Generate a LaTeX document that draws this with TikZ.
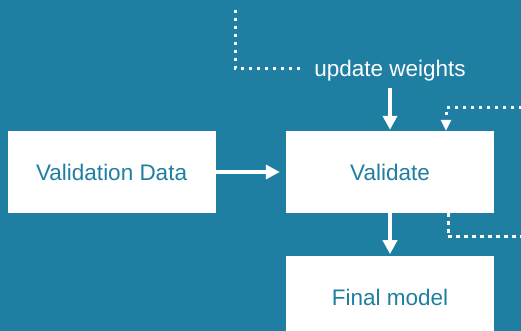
\documentclass[tikz,border=0pt]{standalone}
\usepackage{fontspec}
\setmainfont{Liberation Sans}
\usetikzlibrary{positioning,arrows.meta}
\definecolor{seablue}{RGB}{31,127,162}

\begin{document}
\begin{tikzpicture}[x=1pt,y=1pt,node distance=70pt,
  every node/.style={font=\fontsize{22.5}{27}\selectfont},
  stage/.style={fill=white,text=seablue,minimum width=208pt,minimum height=82pt,inner sep=0pt},
  flow/.style={white,line width=3.5pt,-{Triangle[length=14pt,width=14pt]}},
  dotline/.style={white,line width=3pt,dash pattern=on 3.5pt off 4.5pt}]
\useasboundingbox (0,0) rectangle (521,331);
\fill[seablue] (0,0) rectangle (521,331);
\clip (0,0) rectangle (521,331);

\node[stage] (validate) at (390,159) {Validate};
\node[stage] (valdata) [left=of validate] {Validation Data};
\node[stage] (final) [below=43pt of validate] {Final model};
\node[text=white,inner sep=3pt] (update) [above=46pt of validate] {update weights};

% loose ends of the training loop
\coordinate (back) at (235,321);
\coordinate (inright) at (530,223);
\coordinate (outright) at (530,94);

\draw[flow,shorten >=6pt] (valdata) -- (validate);
\draw[flow,shorten <=3pt,shorten >=1pt] (update) -- (validate);
\draw[flow,shorten >=2pt] (validate) -- (final);
\draw[dotline,shorten >=8pt] (back) |- ([yshift=3pt]update.west);
\draw[dotline,-{Triangle[length=11pt,width=10pt]}] (inright) -| ([xshift=56pt]validate.north);
\draw[dotline] ([xshift=58pt]validate.south) |- (outright);
\end{tikzpicture}
\end{document}
